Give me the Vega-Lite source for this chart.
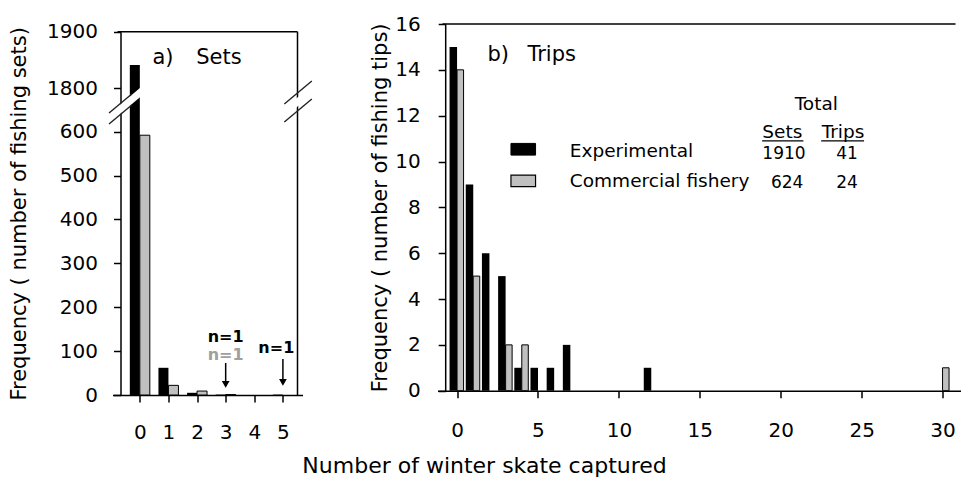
{
  "$schema": "https://vega.github.io/schema/vega-lite/v6.json",
  "padding": {"left": 8.5, "top": 14, "right": 0, "bottom": 10},
  "bounds": "flush",
  "spacing": 135,
  "title": {"text": "Number of winter skate captured", "orient": "bottom", "anchor": "middle", "frame": "bounds", "font": "DejaVu Sans", "fontSize": 22, "fontWeight": "normal", "color": "black", "offset": 14},
  "config": {
    "view": {"stroke": null},
    "axis": {"domainColor": "black", "domainWidth": 1.5, "tickColor": "black", "tickWidth": 1.5, "tickSize": 7, "labelFont": "DejaVu Sans", "labelFontSize": 20, "labelColor": "black", "titleFont": "DejaVu Sans", "titleFontSize": 21, "titleFontWeight": "normal", "titleColor": "black", "grid": false},
    "text": {"font": "DejaVu Sans", "color": "black"}
  },
  "datasets": {
    "sets": [
      {"skate": 0, "series": "Experimental", "count": 1841},
      {"skate": 1, "series": "Experimental", "count": 62},
      {"skate": 2, "series": "Experimental", "count": 5},
      {"skate": 3, "series": "Experimental", "count": 1},
      {"skate": 5, "series": "Experimental", "count": 1},
      {"skate": 0, "series": "Commercial fishery", "count": 592},
      {"skate": 1, "series": "Commercial fishery", "count": 22},
      {"skate": 2, "series": "Commercial fishery", "count": 9},
      {"skate": 3, "series": "Commercial fishery", "count": 1}
    ],
    "trips": [
      {"skate": 0, "series": "Experimental", "count": 15},
      {"skate": 1, "series": "Experimental", "count": 9},
      {"skate": 2, "series": "Experimental", "count": 6},
      {"skate": 3, "series": "Experimental", "count": 5},
      {"skate": 4, "series": "Experimental", "count": 1},
      {"skate": 5, "series": "Experimental", "count": 1},
      {"skate": 6, "series": "Experimental", "count": 1},
      {"skate": 7, "series": "Experimental", "count": 2},
      {"skate": 12, "series": "Experimental", "count": 1},
      {"skate": 0, "series": "Commercial fishery", "count": 14},
      {"skate": 1, "series": "Commercial fishery", "count": 5},
      {"skate": 3, "series": "Commercial fishery", "count": 2},
      {"skate": 4, "series": "Commercial fishery", "count": 2},
      {"skate": 30, "series": "Commercial fishery", "count": 1}
    ],
    "breakBands": [
      {"skate": -1.01, "count": 1006, "skate2": 0.083, "count2": 1731},
      {"skate": 5.12, "count": 1161, "skate2": 5.94, "count2": 1709}
    ],
    "breakLines": [
      {"skate": -1.076, "count": 1117, "skate2": -0.281, "count2": 1642},
      {"skate": -1.076, "count": 813, "skate2": -0.281, "count2": 1338},
      {"skate": 5.05, "count": 1366, "skate2": 6.01, "count2": 1813},
      {"skate": 5.05, "count": 868, "skate2": 6.01, "count2": 1504}
    ]
  },
  "hconcat": [
    {
      "width": 190,
      "height": 371,
      "encoding": {
        "x": {"field": "skate", "type": "quantitative", "scale": {"domain": [-0.78, 5.51], "nice": false, "zero": false}, "axis": {"values": [0, 1, 2, 3, 4, 5], "format": "d", "title": null, "labelPadding": 20, "labelFontSize": 20}},
        "y": {"field": "count", "type": "quantitative", "scale": {"domain": [0, 600, 1800, 1900], "range": [371, 107.7, 64.3, 7.7], "nice": false, "zero": false}, "axis": {"values": [0, 100, 200, 300, 400, 500, 600, 1800, 1900], "format": "d", "offset": -8, "labelPadding": 16, "titlePadding": 17, "title": "Frequency  ( number of fishing sets)"}}
      },
      "layer": [
        {
          "data": {"name": "sets"},
          "transform": [{"filter": "datum.series === 'Experimental'"}],
          "mark": {"type": "bar", "color": "black", "width": 10, "xOffset": -5}
        },
        {
          "data": {"name": "sets"},
          "transform": [{"filter": "datum.series === 'Commercial fishery'"}],
          "mark": {"type": "bar", "fill": "#c0c0c0", "stroke": "black", "strokeWidth": 1, "width": 10, "xOffset": 5}
        },
        {
          "data": {"values": [{"skate": -0.78, "skate2": 5.51, "count": 1900}]},
          "mark": {"type": "rule", "color": "black", "strokeWidth": 1.5},
          "encoding": {"x2": {"field": "skate2"}}
        },
        {
          "data": {"values": [{"skate": 5.51, "count": 0, "count2": 1900}]},
          "mark": {"type": "rule", "color": "black", "strokeWidth": 1.5},
          "encoding": {"y2": {"field": "count2"}}
        },
        {
          "data": {"name": "breakBands"},
          "mark": {"type": "rule", "color": "white", "strokeWidth": 7},
          "encoding": {"x2": {"field": "skate2"}, "y2": {"field": "count2"}}
        },
        {
          "data": {"name": "breakLines"},
          "mark": {"type": "rule", "color": "#222", "strokeWidth": 1.4},
          "encoding": {"x2": {"field": "skate2"}, "y2": {"field": "count2"}}
        },
        {
          "data": {"values": [{"skate": 0.44, "count": 1854, "label": "a)"}, {"skate": 1.97, "count": 1854, "label": "Sets"}]},
          "mark": {"type": "text", "align": "left", "baseline": "middle", "fontSize": 21},
          "encoding": {"text": {"field": "label"}}
        },
        {
          "data": {"values": [{"skate": 3, "count": 133, "label": "n=1"}, {"skate": 4.77, "count": 107, "label": "n=1"}]},
          "mark": {"type": "text", "align": "center", "baseline": "middle", "fontSize": 16, "fontWeight": "bold"},
          "encoding": {"text": {"field": "label"}}
        },
        {
          "data": {"values": [{"skate": 3, "count": 91, "label": "n=1"}]},
          "mark": {"type": "text", "align": "center", "baseline": "middle", "fontSize": 16, "fontWeight": "bold", "color": "#a0a0a0"},
          "encoding": {"text": {"field": "label"}}
        },
        {
          "data": {"values": [{"skate": 3, "count": 73, "count2": 27}, {"skate": 5, "count": 82, "count2": 32}]},
          "mark": {"type": "rule", "color": "black", "strokeWidth": 1.5},
          "encoding": {"y2": {"field": "count2"}}
        },
        {
          "data": {"values": [{"skate": 3, "count": 24}, {"skate": 5, "count": 29}]},
          "mark": {"type": "point", "shape": "triangle-down", "filled": true, "color": "black", "size": 60, "opacity": 1}
        }
      ]
    },
    {
      "width": 523,
      "height": 366.7,
      "encoding": {
        "x": {"field": "skate", "type": "quantitative", "scale": {"domain": [-0.9, 30.8], "nice": false, "zero": false}, "axis": {"values": [0, 5, 10, 15, 20, 25, 30], "format": "d", "title": null, "labelPadding": 23, "labelFontSize": 20}},
        "y": {"field": "count", "type": "quantitative", "scale": {"domain": [0, 16], "nice": false}, "axis": {"values": [0, 2, 4, 6, 8, 10, 12, 14, 16], "format": "d", "offset": -7.7, "labelPadding": 18, "titlePadding": 4, "title": "Frequency  ( number of fishing tips)"}}
      },
      "layer": [
        {
          "data": {"name": "trips"},
          "transform": [{"filter": "datum.series === 'Experimental'"}],
          "mark": {"type": "bar", "color": "black", "width": 7.5, "xOffset": -3.75}
        },
        {
          "data": {"name": "trips"},
          "transform": [{"filter": "datum.series === 'Commercial fishery'"}],
          "mark": {"type": "bar", "fill": "#c0c0c0", "stroke": "black", "strokeWidth": 1, "width": 6.5, "xOffset": 3.25}
        },
        {
          "data": {"values": [{"skate": -0.9, "skate2": 30.8, "count": 16}]},
          "mark": {"type": "rule", "color": "black", "strokeWidth": 1.5},
          "encoding": {"x2": {"field": "skate2"}}
        },
        {
          "data": {"values": [{"skate": 1.88, "count": 14.63, "label": "b)"}, {"skate": 4.35, "count": 14.63, "label": "Trips"}]},
          "mark": {"type": "text", "align": "left", "baseline": "middle", "fontSize": 21},
          "encoding": {"text": {"field": "label"}}
        },
        {
          "data": {"values": [{"skate": 3.33, "skate2": 4.85, "count": 10.28, "count2": 10.79, "series": "Experimental"}]},
          "mark": {"type": "rect", "fill": "black", "stroke": "black", "strokeWidth": 1},
          "encoding": {"x2": {"field": "skate2"}, "y2": {"field": "count2"}}
        },
        {
          "data": {"values": [{"skate": 3.33, "skate2": 4.85, "count": 8.9, "count2": 9.41, "series": "Commercial fishery"}]},
          "mark": {"type": "rect", "fill": "#c0c0c0", "stroke": "black", "strokeWidth": 1.2},
          "encoding": {"x2": {"field": "skate2"}, "y2": {"field": "count2"}}
        },
        {
          "data": {"values": [{"skate": 6.97, "count": 10.48, "label": "Experimental"}, {"skate": 6.97, "count": 9.15, "label": "Commercial fishery"}]},
          "mark": {"type": "text", "align": "left", "baseline": "middle", "fontSize": 18.5},
          "encoding": {"text": {"field": "label"}}
        },
        {
          "data": {"values": [
            {"skate": 22.2, "count": 12.5, "label": "Total"},
            {"skate": 20.1, "count": 11.29, "label": "Sets"},
            {"skate": 23.85, "count": 11.29, "label": "Trips"}
          ]},
          "mark": {"type": "text", "align": "center", "baseline": "middle", "fontSize": 18.5},
          "encoding": {"text": {"field": "label"}}
        },
        {
          "data": {"values": [
            {"skate": 20.2, "count": 10.33, "label": "1910"},
            {"skate": 24.1, "count": 10.33, "label": "41"},
            {"skate": 20.4, "count": 9.08, "label": "624"},
            {"skate": 24.1, "count": 9.08, "label": "24"}
          ]},
          "mark": {"type": "text", "align": "center", "baseline": "middle", "fontSize": 17},
          "encoding": {"text": {"field": "label"}}
        },
        {
          "data": {"values": [{"skate": 18.85, "skate2": 21.4, "count": 10.9}, {"skate": 22.5, "skate2": 25.15, "count": 10.9}]},
          "mark": {"type": "rule", "color": "black", "strokeWidth": 1.2},
          "encoding": {"x2": {"field": "skate2"}}
        }
      ]
    }
  ]
}
